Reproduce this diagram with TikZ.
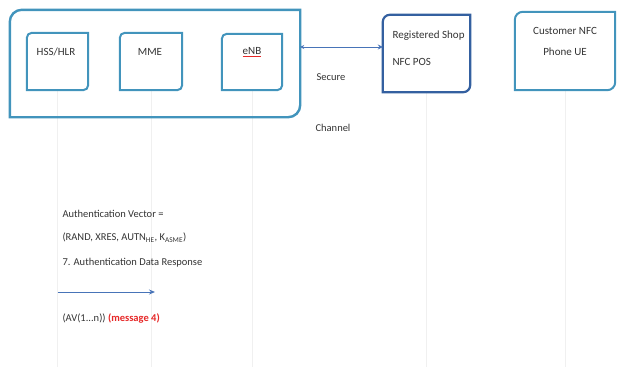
\documentclass[tikz,border=0pt]{standalone}
\usepackage{fontspec}
\setmainfont{Carlito}
\usetikzlibrary{arrows.meta}
\definecolor{frameblue}{RGB}{66,148,188}
\definecolor{shopblue}{RGB}{52,96,160}
\definecolor{msgblue}{RGB}{72,116,184}
\definecolor{msgred}{RGB}{230,40,40}
% box outline with top-left and bottom-right corners rounded
\newcommand{\diagframe}[3]{%
  \draw[#3] (#1.north east) -- ([yshift=#2]#1.south east)
    arc[start angle=0,end angle=-90,radius=#2]
    -- (#1.south west) -- ([yshift=-#2]#1.north west)
    arc[start angle=180,end angle=90,radius=#2] -- cycle;}

\begin{document}
\begin{tikzpicture}[x=1pt,y=-1pt,
    every node/.style={font=\fontsize{10.5}{12}\selectfont, text=black!80},
    boxtext/.style={font=\fontsize{11}{12}\selectfont},
    box/.style={rectangle, inner sep=0pt},
    lifeline/.style={draw=black!6, line width=0.8pt},
    msgline/.style={draw=msgblue, line width=1pt}]
  \useasboundingbox (0,0) rectangle (617,367);

  % boxes
  \node[box, minimum width=290pt, minimum height=107pt] (core) at (155,63.5) {};
  \node[box, minimum width=61pt, minimum height=57pt] (hss) at (57.5,61.5) {};
  \node[box, minimum width=62pt, minimum height=57pt] (mme) at (151,61.5) {};
  \node[box, minimum width=60pt, minimum height=56pt] (enb) at (252,62) {};
  \node[box, minimum width=87pt, minimum height=77pt] (shop) at (426.5,53.5) {};
  \node[box, minimum width=100pt, minimum height=78pt] (cust) at (565,51) {};

  % lifelines
  \draw[lifeline] (hss.south) -- (hss.south |- 0,367);
  \draw[lifeline] (mme.south) -- (mme.south |- 0,367);
  \draw[lifeline] (enb.south) -- (enb.south |- 0,367);
  \draw[lifeline] (shop.south) -- (shop.south |- 0,367);
  \draw[lifeline] (cust.south) -- (cust.south |- 0,367);

  \diagframe{core}{12pt}{frameblue, line width=2.4pt}
  \diagframe{hss}{5pt}{frameblue, line width=2pt}
  \diagframe{mme}{5pt}{frameblue, line width=2pt}
  \diagframe{enb}{5pt}{frameblue, line width=2pt}
  \diagframe{shop}{7pt}{shopblue, line width=2.2pt}
  \diagframe{cust}{8pt}{frameblue, line width=2pt}

  % box texts
  \node[boxtext] (hsstxt) at (56,52) {HSS/HLR};
  \node[boxtext] (mmetxt) at (150,52) {MME};
  \node[boxtext] (enbtxt) at (252,52) {\textcolor{msgred}{\underline{\textcolor{black!80}{eNB}}}};
  \node[boxtext, align=left, anchor=west] (shoptxt) at (389,48.5) {Registered Shop\\[15pt]NFC POS};
  \node[boxtext, align=center] (custtxt) at (565,41) {Customer NFC\\[9pt]Phone UE};

  % secure channel
  \draw[msgline, {Stealth[length=4pt,width=4pt]}-{Stealth[length=5pt,width=5pt]}]
    (core.east |- 0,47) -- (shop.west |- 0,47);
  \node (secure) at (331,77) {Secure};
  \node (channel) at (333,128) {Channel};

  % message 7
  \node[anchor=west] (avtitle) at (59,214) {Authentication Vector =};
  \node[anchor=west] (avset) at (59,238) {(RAND, XRES, AUTN\textsubscript{HE}, K\textsubscript{ASME})};
  \node[anchor=west] (msgname) at (59,263) {7. Authentication Data Response};
  \draw[msgline, -{Stealth[length=6pt,width=5pt]}] (hss.south |- 0,292) -- ([xshift=4pt]mme.south |- 0,292);
  \node[anchor=west] (avlist) at (59,318) {(AV(1...n)) \textcolor{msgred}{\textbf{(message 4)}}};
\end{tikzpicture}
\end{document}
